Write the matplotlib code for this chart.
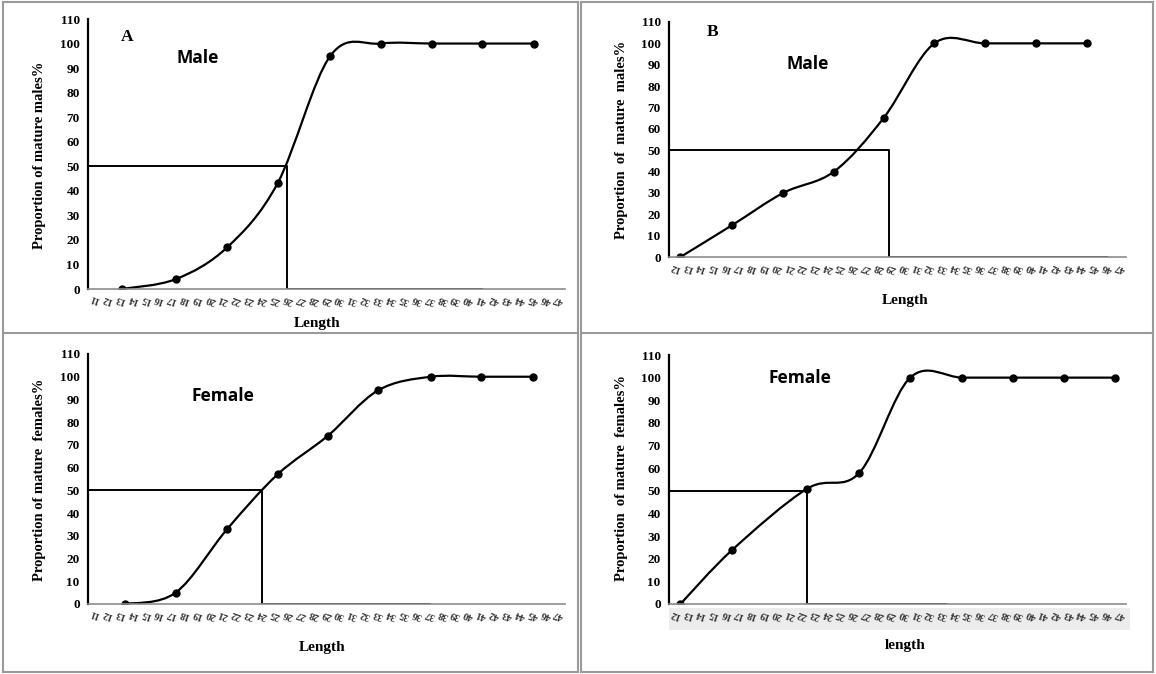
import matplotlib
matplotlib.use("Agg")
import matplotlib.pyplot as plt
from matplotlib.path import Path
from matplotlib.patches import PathPatch, Rectangle
from matplotlib.lines import Line2D

# Data (x in length-class positions)
xa = [2.6, 6.8, 10.8, 14.7, 18.8, 22.7, 26.7, 30.6, 34.6]
ya = [0, 4, 17, 43, 95, 100, 100, 100, 100]
xb = [0.9, 5.0, 9.0, 13.0, 16.9, 20.9, 24.9, 28.9, 32.9]
yb = [0, 15, 30, 40, 65, 100, 100, 100, 100]
xc = [2.9, 6.8, 10.8, 14.7, 18.6, 22.5, 26.6, 30.5, 34.5]
yc = [0, 5, 33, 57, 74, 94, 100, 100, 100]
xd = [0.9, 5.0, 10.9, 15.0, 19.0, 23.1, 27.1, 31.1, 35.1]
yd = [0, 24, 51, 58, 100, 100, 100, 100, 100]

# L50 reference lines: x at 50%, end of the black line along 0
l50 = [15.4, 17.3, 13.5, 10.9]
base_end = [30.6, 34.5, 26.5, 21.8]

labels_ac = [str(v) for v in range(11, 48)]
labels_bd = [str(v) for v in range(12, 48)]

ylabels = ["Proportion of mature males%", "Proportion  of  mature  males%",
           "Proportion of mature  females%", "Proportion  of mature  females%"]
xlabels = ["Length", "Length", "Length", "length"]
sexes = ["Male", "Male", "Female", "Female"]

serif = "Liberation Serif"
W, H = 1156, 674


def smooth_path(x, y):
    # Excel-like smoothed line as cubic Bezier segments through the points
    n = len(x)
    verts = [(x[0], y[0])]
    codes = [Path.MOVETO]
    for i in range(n - 1):
        x0, y0 = (x[i - 1], y[i - 1]) if i > 0 else (x[i], y[i])
        x3, y3 = (x[i + 2], y[i + 2]) if i + 2 < n else (x[i + 1], y[i + 1])
        c1 = (x[i] + (x[i + 1] - x0) / 6, y[i] + (y[i + 1] - y0) / 6)
        c2 = (x[i + 1] - (x3 - x[i]) / 6, y[i + 1] - (y3 - y[i]) / 6)
        verts += [c1, c2, (x[i + 1], y[i + 1])]
        codes += [Path.CURVE4] * 3
    return Path(verts, codes)


fig = plt.figure(figsize=(W / 100, H / 100), dpi=100)

# panel frames
gray = "#9a9a9a"
for seg in [((3, 3), (2, 672)), ((578, 578), (2, 672)), ((581, 581), (2, 672)),
            ((1153, 1153), (2, 672)), ((3, 578), (2, 2)), ((581, 1153), (2, 2)),
            ((3, 578), (672, 672)), ((581, 1153), (672, 672)),
            ((3, 578), (333, 333)), ((581, 1153), (333, 333))]:
    fig.add_artist(Line2D([s / W for s in seg[0]], [1 - s / H for s in seg[1]],
                          color=gray, lw=1.5))

# light band behind the tick labels of panel D
fig.add_artist(Rectangle((669 / W, 1 - 630 / H), (1130 - 669) / W, 22 / H,
                         transform=fig.transFigure, color="#ececec", lw=0, zorder=0))

# axes boxes in pixels: left, x-right, y0 pixel, y110 pixel
boxes = [(88, 565, 289, 19), (669, 1126, 257, 22),
         (88, 565, 604, 354), (669, 1126, 604, 355)]
series = [(xa, ya), (xb, yb), (xc, yc), (xd, yd)]
ncat = [len(labels_ac), len(labels_bd), len(labels_ac), len(labels_bd)]
tick_lbls = [labels_ac, labels_bd, labels_ac, labels_bd]

for k in range(4):
    l, r, yb0, yt = boxes[k]
    ax = fig.add_axes([l / W, 1 - yb0 / H, (r - l) / W, (yb0 - yt) / H])
    x, y = series[k]
    ax.add_patch(PathPatch(smooth_path(x, y), fill=False, lw=1.6, color="black"))
    ax.plot(x, y, "o", color="black", ms=5)
    ax.plot([0, l50[k], l50[k], base_end[k]], [50, 50, 0, 0], color="black", lw=1.4)
    ax.set_xlim(0, ncat[k])
    ax.set_ylim(0, 110)
    ax.set_yticks(range(0, 111, 10))
    ax.set_xticks([i + 0.5 for i in range(ncat[k])])
    ax.set_xticklabels(tick_lbls[k], rotation=160, fontsize=7.5,
                       family=serif, fontweight="bold", color="#333333",
                       ha="center", va="top")
    for t in ax.get_yticklabels():
        t.set_family(serif)
        t.set_fontweight("bold")
        t.set_fontsize(9.5)
    ax.tick_params(axis="both", length=0, pad=6)
    ax.tick_params(axis="x", pad=3)
    for s in ["top", "right"]:
        ax.spines[s].set_visible(False)
    ax.spines["left"].set_linewidth(1.6)
    ax.spines["bottom"].set_color("#8c8c8c")
    ax.spines["bottom"].set_linewidth(1.2)
    ax.patch.set_alpha(0)

# texts
for (px, py), s in zip([(40, 155), (622, 140), (40, 480), (622, 478)], ylabels):
    fig.text(px / W, 1 - py / H, s, rotation=90, ha="center", va="center",
             family=serif, fontweight="bold", fontsize=10.5)
for (px, py), s in zip([(317, 324), (905, 300), (322, 648), (905, 646)], xlabels):
    fig.text(px / W, 1 - py / H, s, ha="center", va="center",
             family=serif, fontweight="bold", fontsize=11)
for (px, py), s in zip([(198, 58), (808, 64), (223, 396), (800, 378)], sexes):
    fig.text(px / W, 1 - py / H, s, ha="center", va="center",
             family="Open Sans", fontweight="bold", fontsize=12.5)
fig.text(127 / W, 1 - 37 / H, "A", ha="center", va="center",
         family=serif, fontweight="bold", fontsize=12.5)
fig.text(713 / W, 1 - 32 / H, "B", ha="center", va="center",
         family=serif, fontweight="bold", fontsize=12.5)

fig.savefig("out.png", dpi=100)
